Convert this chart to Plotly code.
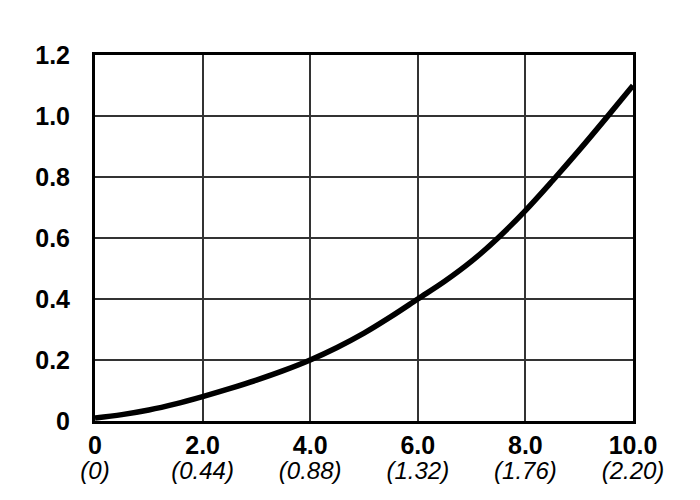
import plotly.graph_objects as go

# Curve values
curve_x = [0, 0.5, 1, 1.5, 2, 2.5, 3, 3.5, 4, 4.5, 5, 5.5, 6, 6.5, 7, 7.5, 8, 8.5, 9, 9.5, 10]
curve_y = [0.010, 0.021, 0.036, 0.056, 0.080, 0.106, 0.134, 0.165, 0.200, 0.241, 0.288,
           0.342, 0.400, 0.458, 0.524, 0.602, 0.690, 0.787, 0.888, 0.993, 1.100]

x_ticks = [0, 2, 4, 6, 8, 10]
x_main = ["0", "2.0", "4.0", "6.0", "8.0", "10.0"]
x_sub = ["(0)", "(0.44)", "(0.88)", "(1.32)", "(1.76)", "(2.20)"]
y_ticks = [0, 0.2, 0.4, 0.6, 0.8, 1.0, 1.2]
y_labels = ["0", "0.2", "0.4", "0.6", "0.8", "1.0", "1.2"]

fig = go.Figure()
fig.add_trace(go.Scatter(
    x=curve_x, y=curve_y, mode="lines",
    line=dict(color="black", width=5.5, shape="spline", smoothing=1.0),
    showlegend=False, hoverinfo="skip",
))
# invisible trace to carry the secondary x axis
fig.add_trace(go.Scatter(
    x=curve_x, y=curve_y, xaxis="x2", mode="lines",
    line=dict(color="rgba(0,0,0,0)", width=0), showlegend=False, hoverinfo="skip",
))

fam = "Liberation Sans, Arial, sans-serif"
bold_font = dict(family=fam, size=25, color="black")
ital_font = dict(family=fam, size=24, color="black")

fig.update_layout(
    width=700, height=500,
    margin=dict(l=95, r=67, t=55, b=79),
    paper_bgcolor="white", plot_bgcolor="white",
    xaxis=dict(
        range=[0, 10], tickmode="array", tickvals=x_ticks,
        ticktext=[f"<b>{t}</b>" for t in x_main],
        showgrid=True, gridcolor="#333333", gridwidth=1.5,
        showline=True, linecolor="black", linewidth=3, mirror=True,
        ticks="", zeroline=False, tickfont=bold_font, ticklabelstandoff=0,
    ),
    xaxis2=dict(
        range=[0, 10], overlaying="x", side="bottom", anchor="y",
        tickmode="array", tickvals=x_ticks,
        ticktext=[f"<i>{t}</i>" for t in x_sub],
        showgrid=False, showline=False, ticks="", zeroline=False,
        tickfont=ital_font, ticklabelstandoff=33,
    ),
    yaxis=dict(
        range=[0, 1.2], tickmode="array", tickvals=y_ticks,
        ticktext=[f"<b>{t}</b>" for t in y_labels],
        showgrid=True, gridcolor="#333333", gridwidth=1.5,
        showline=True, linecolor="black", linewidth=3, mirror=True,
        ticks="", zeroline=False, tickfont=bold_font, ticklabelstandoff=17,
    ),
)

fig.write_html("out.html", config={"displayModeBar": False},
               post_script="document.body.style.margin='0';")
